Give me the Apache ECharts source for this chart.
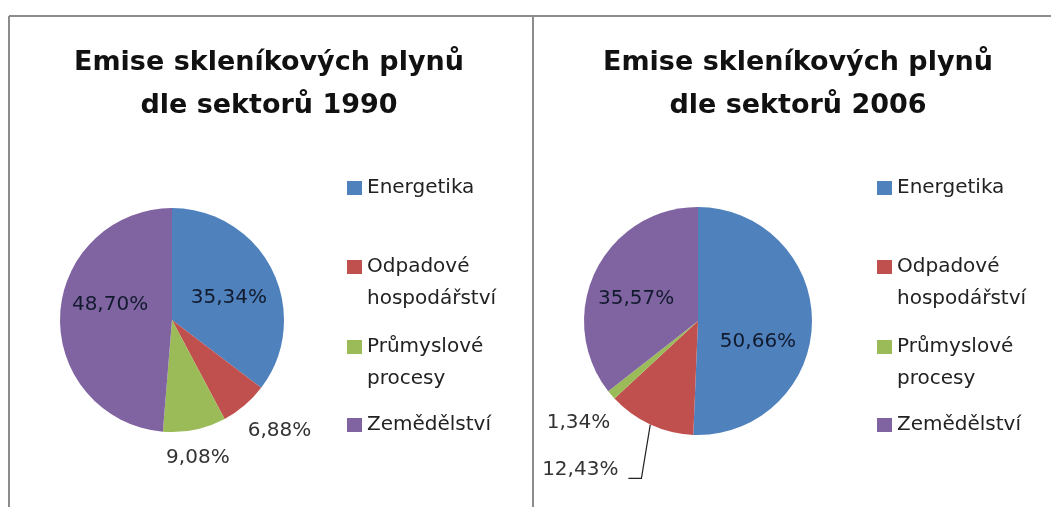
<!DOCTYPE html>
<html>
<head>
<meta charset="utf-8">
<script src="https://cdn.jsdelivr.net/npm/echarts@6/dist/echarts.min.js"></script>
<style>
	html, body { margin: 0; padding: 0; background: #fff; }
	#chart { width: 1051px; height: 507px; }
</style>
</head>
<body>
<div id="chart"></div>
<script>

const sectors = ['Energetika', 'Odpadové hospodářství', 'Průmyslové procesy', 'Zemědělství']
const share1990 = [35.34, 6.88, 9.08, 48.70]
const share2006 = [50.66, 12.43, 1.34, 35.57]
const titles = ['Emise skleníkových plynů\ndle sektorů 1990', 'Emise skleníkových plynů\ndle sektorů 2006']

const colors = ['#4f81bd', '#c0504d', '#9bbb59', '#8064a2']
const font = 'DejaVu Sans'

// where each slice puts its label: in = inside, out = outside end, line = outside with leader
const place1990 = ['in', 'out', 'out', 'in']
const place2006 = ['in', 'line', 'out', 'in']
// small shifts of the labels, excel "best fit" is not exactly on the bisector
const nudge1990 = { 0: [4, 4], 1: [9, -5], 2: [-2, 3], 3: [-3, -13] }
const nudge2006 = { 0: [0, 20], 1: [2, -6], 3: [-8, 4] }

function midAngles(values) {
	let total = values.reduce((a, b) => a + b, 0)
	let acc = 0
	return values.map(v => {
		let mid = (acc + v / 2) / total * 360
		acc += v
		return mid
	})
}

function fmt(v) { return v.toFixed(2).replace('.', ',') + '%' }

function pie(values, center, radius, place, nudge) {
	let mids = midAngles(values)
	return {
		type: 'pie',
		center: center,
		radius: radius,
		startAngle: 90,
		clockwise: true,
		avoidLabelOverlap: false,
		silent: true,
		itemStyle: { borderWidth: 0 },
		label: {
			fontFamily: font,
			fontSize: 20,
			formatter: p => fmt(p.value),
		},
		data: values.map((v, i) => ({
			name: sectors[i],
			value: v,
			label: place[i] == 'in'
				? { position: 'inside', color: '#121a2e' }
				: { position: 'outside', color: '#333' },
			labelLine: place[i] == 'line'
				? { show: true, length: 57, length2: 5, smooth: false, lineStyle: { color: '#222', width: 1.2 } }
				: { show: false },
		})),
		labelLayout: p => {
			let i = p.dataIndex
			let r = p.labelRect
			let d = nudge[i] || [0, 0]
			let a = mids[i] * Math.PI / 180
			let ux = Math.sin(a), uy = -Math.cos(a)
			if (place[i] == 'in') {
				return { x: r.x + r.width / 2 + d[0], y: r.y + r.height / 2 + d[1], align: 'center', verticalAlign: 'middle' }
			}
			if (place[i] == 'out') {
				// push label box out along the bisector until it clears the pie by a small gap
				let lo = 0, hi = radius + 300, gap = 13
				for (let k = 0; k < 40; k++) {
					let t = (lo + hi) / 2
					let dx = Math.max(Math.abs(t * ux) - r.width / 2, 0)
					let dy = Math.max(Math.abs(t * uy) - r.height / 2, 0)
					if (Math.hypot(dx, dy) < radius + gap) lo = t
					else hi = t
				}
				return { x: center[0] + lo * ux + d[0], y: center[1] + lo * uy + d[1], align: 'center', verticalAlign: 'middle' }
			}
			// leader: from the slice edge down to the label's lower right corner, short foot to the left
			let cx = r.x + r.width / 2 + d[0]
			let cy = r.y + r.height / 2 + d[1]
			let right = cx + r.width / 2
			let foot = cy + 8
			let edge = [center[0] + radius * ux, center[1] + radius * uy]
			return {
				x: cx, y: cy, align: 'center', verticalAlign: 'middle',
				labelLinePoints: [edge, [right + 23, foot], [right + 10, foot]],
			}
		},
	}
}

function legendItem(name, left, top) {
	return {
		data: [name],
		left: left,
		top: top,
		padding: 0,
		orient: 'vertical',
		icon: 'rect',
		itemWidth: 15,
		itemHeight: 14,
		selectedMode: false,
		textStyle: { fontFamily: font, fontSize: 20, color: '#222', lineHeight: 32 },
		// two word names break onto two lines, blank line above keeps the square on the first one
		formatter: n => n.indexOf(' ') > 0 ? ' \n' + n.replace(' ', '\n') : n,
	}
}

// legend rows: top of each entry box
const legendTops = [172, 219, 299, 409]

let chart = echarts.init(document.getElementById('chart'), null, { renderer: 'canvas' })
chart.setOption({
	animation: false,
	backgroundColor: '#fff',
	color: colors,
	title: [{
		text: titles[0],
		left: 269,
		top: 41,
		padding: 0,
		textAlign: 'center',
		textStyle: { fontFamily: font, fontSize: 27, fontWeight: 'bold', color: '#111', lineHeight: 43 },
	}, {
		text: titles[1],
		left: 798,
		top: 41,
		padding: 0,
		textAlign: 'center',
		textStyle: { fontFamily: font, fontSize: 27, fontWeight: 'bold', color: '#111', lineHeight: 43 },
	}],
	legend: sectors.map((s, i) => legendItem(s, 347, legendTops[i]))
		.concat(sectors.map((s, i) => legendItem(s, 877, legendTops[i]))),
	series: [
		pie(share1990, [172, 320], 112, place1990, nudge1990),
		pie(share2006, [698, 321], 114, place2006, nudge2006),
	],
	graphic: [
		{ type: 'line', shape: { x1: 9, y1: 16, x2: 1051, y2: 16 }, style: { stroke: '#8c8c8c', lineWidth: 2 } },
		{ type: 'line', shape: { x1: 9, y1: 16, x2: 9, y2: 507 }, style: { stroke: '#8c8c8c', lineWidth: 2 } },
		{ type: 'line', shape: { x1: 533, y1: 16, x2: 533, y2: 507 }, style: { stroke: '#8c8c8c', lineWidth: 2 } },
	],
})

</script>
</body>
</html>
